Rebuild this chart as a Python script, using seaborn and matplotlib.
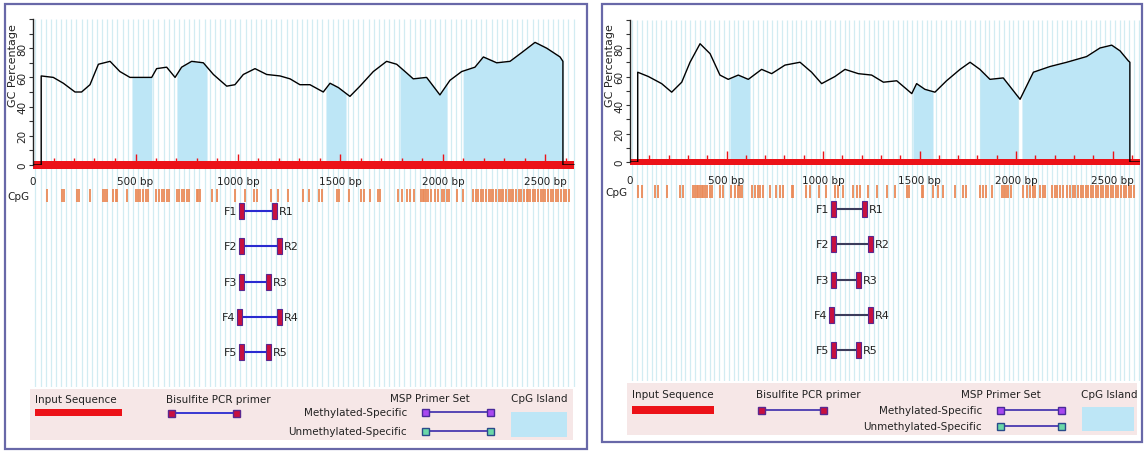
import numpy as np
import matplotlib
matplotlib.use("Agg")
import matplotlib.pyplot as plt
from matplotlib.patches import Rectangle
import seaborn as sns

sns.set_style("white")
plt.rcParams["font.family"] = ["DejaVu Sans"]

# ---------------- data ----------------
tick_vals = [0, 500, 1000, 1500, 2000, 2500]
tick_labels = ["0", "500 bp", "1000 bp", "1500 bp", "2000 bp", "2500 bp"]
seq_len = 2640

left_gc_pos = [0, 40, 40, 99, 148, 205, 237, 278, 319, 376, 424, 473, 522, 579, 603, 652, 693, 725,
               774, 831, 880, 945, 985, 1026, 1083, 1140, 1205, 1254, 1302, 1351, 1416, 1449, 1490,
               1546, 1595, 1660, 1725, 1774, 1823, 1855, 1920, 1985, 2034, 2091, 2156, 2197, 2262,
               2327, 2384, 2449, 2506, 2571, 2585, 2585, 2640]
left_gc_pct = [0, 0, 61, 60, 56, 50, 50, 55, 69, 71, 64, 60, 60, 60, 66, 67, 60, 67,
               71, 70, 62, 54, 55, 62, 66, 62, 61, 59, 55, 55, 50, 56, 53,
               47, 54, 64, 71, 69, 63, 59, 60, 48, 58, 64, 67, 74, 70,
               71, 77, 84, 80, 74, 71, 0, 0]
left_islands = [(483, 580), (702, 849), (1429, 1527), (1790, 2020), (2098, 2585)]
left_cpg = [66, 140, 153, 213, 226, 278, 340, 351, 363, 392, 405, 411, 457, 502, 514, 522, 538, 551,
            563, 600, 616, 628, 639, 652, 665, 704, 714, 725, 736, 749, 762, 798, 806, 814, 871, 896,
            985, 1034, 1078, 1091, 1159, 1197, 1245, 1319, 1348, 1397, 1408, 1485, 1494, 1543,
            1598, 1615, 1644, 1685, 1693, 1782, 1798, 1823, 1839, 1859, 1891, 1901, 1907, 1917, 1929,
            1940, 1961, 1977, 1993, 2005, 2018, 2031, 2067, 2099, 2148, 2161, 2172, 2184, 2197, 2210,
            2223, 2234, 2245, 2258, 2271, 2283, 2294, 2307, 2320, 2333, 2343, 2356, 2369, 2382, 2395,
            2408, 2414, 2424, 2437, 2450, 2463, 2476, 2489, 2500, 2513, 2526, 2539, 2550, 2563, 2576,
            2589, 2602, 2614]
left_fwd = [1005, 1005, 1005, 995, 1005]
left_rev = [1190, 1215, 1163, 1215, 1163]

right_gc_pos = [0, 40, 40, 95, 164, 216, 268, 311, 363, 415, 466, 509, 561, 613, 682, 734, 803, 881,
                941, 993, 1062, 1114, 1183, 1252, 1313, 1382, 1460, 1485, 1528, 1580, 1640, 1710,
                1762, 1813, 1865, 1934, 2021, 2090, 2176, 2263, 2366, 2435, 2496, 2539, 2582, 2590,
                2590, 2640]
right_gc_pct = [0, 0, 63, 60, 55, 49, 56, 70, 83, 76, 61, 58, 61, 58, 65, 62, 68, 70,
                63, 55, 60, 65, 62, 61, 56, 57, 48, 55, 51, 49, 57, 65,
                70, 65, 58, 59, 44, 63, 67, 70, 74, 80, 82, 78, 71, 70,
                0, 0]
right_islands = [(518, 622), (1466, 1570), (1813, 2010), (2031, 2590)]
right_cpg = [43, 64, 130, 143, 190, 259, 276, 328, 337, 345, 354, 362, 371, 380, 388, 397, 414, 426,
             466, 484, 523, 544, 557, 570, 578, 630, 648, 661, 674, 691, 725, 755, 777, 794, 838, 846,
             910, 933, 979, 1014, 1062, 1079, 1105, 1157, 1174, 1192, 1235, 1278, 1330, 1373, 1434,
             1447, 1511, 1520, 1572, 1598, 1623, 1684, 1727, 1741, 1813, 1831, 1844, 1874, 1926, 1938,
             1948, 1960, 1972, 2038, 2055, 2072, 2086, 2098, 2124, 2138, 2150, 2185, 2202, 2214, 2228,
             2245, 2262, 2280, 2293, 2306, 2323, 2335, 2349, 2362, 2375, 2387, 2401, 2414, 2426, 2439,
             2453, 2467, 2479, 2491, 2505, 2519, 2531, 2543, 2557, 2571, 2583, 2595, 2609]
right_fwd = [1041, 1041, 1041, 1031, 1041]
right_rev = [1228, 1259, 1197, 1259, 1197]

# ---------------- styling ----------------
W, H = 1144, 452
RED = "#ec1218"
ISLAND = "#bde6f6"
GRID = "#d2ecf2"
CPG_COL = "#ea8a58"
PRIMER_FILL = "#c8103f"
PRIMER_EDGE = "#5a2890"
BORDER = "#6868a8"
FS = 7.5
TXT = "#222222"

fig = plt.figure(figsize=(W / 100, H / 100), dpi=100)
fig.patch.set_facecolor("white")


def px_axes(x0, y0, x1, y1, z=0):
    return fig.add_axes([x0 / W, 1 - y1 / H, (x1 - x0) / W, (y1 - y0) / H], zorder=z)


ov = px_axes(0, 0, W, H, z=10)
ov.set_xlim(0, W)
ov.set_ylim(H, 0)
ov.axis("off")


def draw_panel(lay, gc_pos, gc_pct, islands, cpg, fwd, rev, line_col):
    x0 = lay["px0"]
    x1 = x0 + lay["xmax"] * lay["scale"]
    tr = px_axes(x0, lay["gc_top"], x1, lay["tr_bot"], z=1)
    tr.set_xlim(0, lay["xmax"])
    tr.set_ylim(lay["tr_bot"], lay["gc_top"])
    tr.axis("off")
    tr.vlines(np.arange(12, lay["xmax"], 25), lay["gc_top"], lay["tr_bot"], color=GRID, lw=0.9, zorder=0)
    for v, t in zip(tick_vals, tick_labels):
        tr.text(v, lay["tick_y"], t, ha="center", va="center", fontsize=FS, color=TXT)
    tr.vlines(cpg, lay["cpg_y"][0], lay["cpg_y"][1], color=CPG_COL, lw=1.3, zorder=2)
    bw = 5 / lay["scale"]
    for i, (f, r) in enumerate(zip(fwd, rev)):
        y = lay["primer_y"][i]
        tr.plot([f + bw, r - bw], [y, y], color=line_col, lw=1.5, zorder=3)
        for xx in (f, r - bw):
            tr.add_patch(Rectangle((xx, y - 8), bw, 16, facecolor=PRIMER_FILL,
                                   edgecolor=PRIMER_EDGE, lw=0.8, zorder=4))
        tr.text(f - 1.5 / lay["scale"], y, f"F{i + 1}", ha="right", va="center", fontsize=FS + 0.5, color=TXT)
        tr.text(r + 1.5 / lay["scale"], y, f"R{i + 1}", ha="left", va="center", fontsize=FS + 0.5, color=TXT)

    gc = px_axes(x0, lay["gc_top"], x1, lay["gc_bot"], z=2)
    gc.patch.set_alpha(0)
    core_x = np.array(gc_pos[2:-2], dtype=float)
    core_y = np.array(gc_pct[2:-2], dtype=float)
    for a, b in islands:
        xs = np.concatenate([[a], core_x[(core_x > a) & (core_x < b)], [b]])
        ys = np.interp(xs, core_x, core_y)
        gc.fill_between(xs, 0, ys, color=ISLAND, lw=0, zorder=1)
    gc.fill_between([0, seq_len], -2.4, 2.4, color=RED, lw=0, clip_on=False, zorder=2)
    small = [v for v in range(100, seq_len, 100) if v % 500]
    big = [v for v in range(500, seq_len, 500)]
    gc.vlines(small, 2.4, 5.0, color=RED, lw=1, zorder=2)
    gc.vlines(big, 2.4, 7.5, color=RED, lw=1, zorder=2)
    sns.lineplot(x=gc_pos, y=gc_pct, ax=gc, color="black", lw=1.0, sort=False,
                 estimator=None, legend=False, zorder=5)
    gc.set_xlim(0, lay["xmax"])
    gc.set_ylim(0, 100)
    gc.set_xlabel("")
    gc.set_ylabel("")
    gc.set_xticks([])
    yt = list(range(0, 101, 10))
    gc.set_yticks(yt)
    gc.set_yticklabels([str(v) if (v % 20 == 0 and v < 100) else "" for v in yt],
                       rotation=90, va="center", fontsize=FS, color=TXT)
    gc.tick_params(axis="y", length=3, width=0.8, pad=1, left=True, color="#333333")
    for s in ("top", "right", "bottom"):
        gc.spines[s].set_visible(False)
    gc.spines["left"].set_color(TXT)
    gc.spines["left"].set_linewidth(1.0)

    ov.text(lay["ylab"][0], lay["ylab"][1], "GC Percentage", rotation=90, ha="center", va="center",
            fontsize=FS + 0.5, color=TXT)
    ov.text(x0 - 3, lay["cpg_label_y"], "CpG", ha="right", va="center", fontsize=FS, color=TXT)
    bx = lay["border"]
    ov.add_patch(Rectangle((bx[0], bx[1]), bx[2] - bx[0], bx[3] - bx[1], fill=False,
                           edgecolor=BORDER, lw=1.6))


def square(x, y, fc, ec):
    ov.add_patch(Rectangle((x - 3.5, y - 3.5), 7, 7, facecolor=fc, edgecolor=ec, lw=1.0, zorder=3))


def draw_legend(p, line_col):
    b = p["box"]
    ov.add_patch(Rectangle((b[0], b[1]), b[2] - b[0], b[3] - b[1], facecolor="#f6e7e7", lw=0))
    ov.text(*p["input_t"], "Input Sequence", ha="left", va="center", fontsize=FS, color=TXT)
    ib = p["input_b"]
    ov.add_patch(Rectangle((ib[0], ib[1]), ib[2], ib[3], facecolor=RED, lw=0))
    ov.text(*p["bis_t"], "Bisulfite PCR primer", ha="left", va="center", fontsize=FS, color=TXT)
    g = p["bis_g"]
    ov.plot([g[0], g[1]], [g[2], g[2]], color=line_col, lw=1.3)
    square(g[0], g[2], PRIMER_FILL, PRIMER_EDGE)
    square(g[1], g[2], PRIMER_FILL, PRIMER_EDGE)
    ov.text(*p["msp_t"], "MSP Primer Set", ha="right", va="center", fontsize=FS, color=TXT)
    ov.text(*p["meth_t"], "Methylated-Specific", ha="right", va="center", fontsize=FS, color=TXT)
    ov.text(*p["unmeth_t"], "Unmethylated-Specific", ha="right", va="center", fontsize=FS, color=TXT)
    g = p["meth_g"]
    ov.plot([g[0], g[1]], [g[2], g[2]], color="#4a3ab0", lw=1.3)
    square(g[0], g[2], "#a848f0", "#4a2a9a")
    square(g[1], g[2], "#a848f0", "#4a2a9a")
    g = p["unmeth_g"]
    ov.plot([g[0], g[1]], [g[2], g[2]], color="#4a3ab0", lw=1.3)
    square(g[0], g[2], "#6ad8a8", "#2a4a8a")
    square(g[1], g[2], "#6ad8a8", "#2a4a8a")
    ov.text(*p["cpg_t"], "CpG Island", ha="left", va="center", fontsize=FS, color=TXT)
    cb = p["cpg_b"]
    ov.add_patch(Rectangle((cb[0], cb[1]), cb[2], cb[3], facecolor=ISLAND, lw=0))


left_layout = dict(px0=33, xmax=2650, scale=0.205, gc_top=20, gc_bot=166, tr_bot=388,
                   tick_y=182, cpg_y=(190, 203), cpg_label_y=197,
                   primer_y=[212, 247, 283, 318, 353], ylab=(13, 66), border=(5, 5, 587, 450))
right_layout = dict(px0=630, xmax=2645, scale=0.193, gc_top=20.5, gc_bot=163, tr_bot=382,
                    tick_y=181, cpg_y=(186, 199), cpg_label_y=193,
                    primer_y=[210, 245, 281, 316, 351], ylab=(610, 66), border=(602, 5, 1142, 443))

draw_panel(left_layout, left_gc_pos, left_gc_pct, left_islands, left_cpg, left_fwd, left_rev, "#2a2ad0")
draw_panel(right_layout, right_gc_pos, right_gc_pct, right_islands, right_cpg, right_fwd, right_rev, "#3c3c5c")

draw_legend(dict(box=(30, 390, 573, 441), input_t=(35, 400), input_b=(35, 410, 87, 7),
                 bis_t=(166, 400), bis_g=(171, 236, 414), msp_t=(470, 399),
                 meth_t=(407, 413), unmeth_t=(407, 432), meth_g=(425, 490, 413),
                 unmeth_g=(425, 490, 432), cpg_t=(511, 399), cpg_b=(511, 413, 56, 25)), "#2a2ad0")
draw_legend(dict(box=(627, 384, 1137, 436), input_t=(632, 395), input_b=(632, 407, 82, 8),
                 bis_t=(756, 395), bis_g=(761, 823, 411), msp_t=(1041, 395),
                 meth_t=(982, 411), unmeth_t=(982, 427), meth_g=(1000, 1061, 411),
                 unmeth_g=(1000, 1061, 427), cpg_t=(1081, 395), cpg_b=(1082, 408, 52, 24)), "#4a3ab0")

fig.savefig("out.png", dpi=100, facecolor="white")
